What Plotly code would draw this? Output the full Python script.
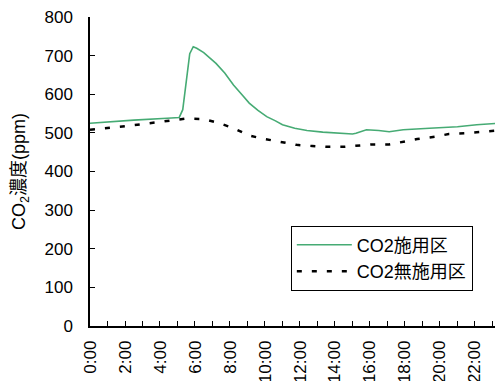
import plotly.graph_objects as go

# hours of day
hours_treat = [0, 1.1, 2.5, 4.4, 5.1, 5.3, 5.5, 5.7, 5.9, 6.1, 6.5, 7.2, 7.7, 8.2, 8.7, 9.1, 9.6, 10.1, 10.6, 11.0, 11.7, 12.4, 13.3, 14.2, 15.0, 15.2, 15.8, 16.5, 17.1, 17.9, 18.6, 19.4, 20.2, 21.0, 22.1, 23.0, 24.0]
co2_treat = [525, 529, 533, 538, 540, 560, 640, 705, 723, 719, 708, 680, 655, 624, 598, 577, 558, 542, 531, 521, 512, 506, 502, 500, 497, 499, 508, 506, 503, 508, 509, 512, 514, 516, 521, 523, 527]

hours_ctrl = [0, 1.05, 2.0, 2.9, 3.8, 4.7, 5.5, 6.45, 7.4, 8.2, 9.1, 10.0, 11.0, 11.8, 12.7, 13.5, 14.5, 15.2, 16.1, 17.1, 17.9, 18.7, 19.7, 20.5, 21.4, 22.4, 23.3, 24.0]
co2_ctrl = [508, 512, 517, 522, 527, 532, 537, 536, 525, 512, 493, 484, 475, 469, 466, 464, 464, 466, 470, 470, 477, 484, 490, 497, 499, 503, 506, 509]

tick_vals = list(range(0, 24, 2))
tick_text = [f"{h}:00" for h in tick_vals]

font_main = "Liberation Sans, Noto Sans CJK JP, sans-serif"

fig = go.Figure()
fig.add_trace(go.Scatter(x=hours_treat, y=co2_treat, mode="lines", name="CO2施用区",
                         line=dict(color="#46ab74", width=1.6)))
fig.add_trace(go.Scatter(x=hours_ctrl, y=co2_ctrl, mode="lines", name="CO2無施用区",
                         line=dict(color="black", width=2.5, dash="5px,10px")))

fig.update_layout(
    width=503, height=381,
    margin=dict(l=82, r=0, t=9, b=63),
    plot_bgcolor="white", paper_bgcolor="white",
    font=dict(family=font_main, color="black", size=16),
    showlegend=True,
    legend=dict(x=0.477, y=0.325, xanchor="left", yanchor="top",
                bordercolor="black", borderwidth=1, bgcolor="white",
                font=dict(size=18, family=font_main), itemwidth=55,
                tracegroupgap=0),
    xaxis=dict(range=[0, 24.06], tickvals=tick_vals, ticktext=tick_text,
               tickangle=-90, ticks="inside", ticklen=5, tickcolor="black",
               showline=True, linecolor="black", linewidth=1.5,
               showgrid=False, zeroline=False, ticklabelstandoff=6,
               automargin=False, ticklabeloverflow="allow",
               minor=dict(dtick=1, tick0=0, ticks="inside", ticklen=5, tickcolor="black"),
               tickfont=dict(size=17)),
    yaxis=dict(range=[0, 800], dtick=100, ticks="inside", ticklen=5, tickcolor="black",
               showline=True, linecolor="black", linewidth=1.5,
               showgrid=False, zeroline=False, ticklabelstandoff=12,
               automargin=False, ticklabeloverflow="allow",
               tickfont=dict(size=17),
               title=dict(text="CO<sub>2</sub>濃度(ppm)", font=dict(size=18), standoff=14)),
)

fig.write_html("out.html")
